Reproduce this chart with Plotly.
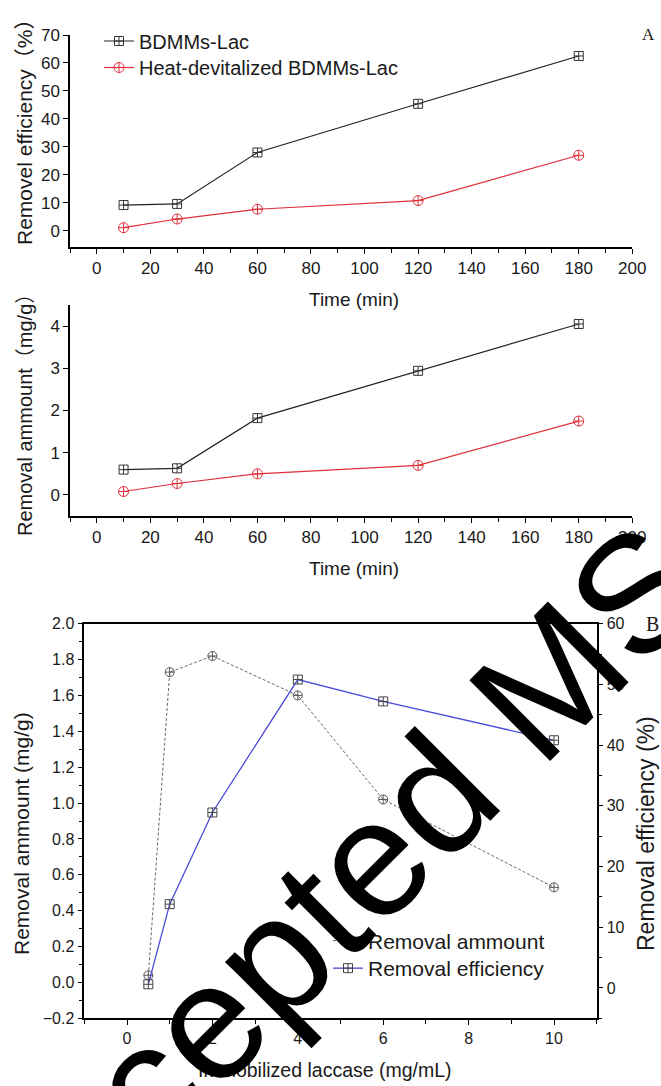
import plotly.graph_objects as go

# ---- data -------------------------------------------------------------
time_min = [10, 30, 60, 120, 180]
eff_bdmms = [9.2, 9.6, 28.0, 45.4, 62.5]
eff_heat = [1.1, 4.2, 7.7, 10.8, 27.0]
amt_bdmms = [0.60, 0.63, 1.82, 2.94, 4.05]
amt_heat = [0.08, 0.27, 0.50, 0.70, 1.75]

laccase = [0.5, 1, 2, 4, 6, 10]
amt_lac = [0.04, 1.73, 1.82, 1.60, 1.02, 0.53]
eff_lac = [0.6, 13.8, 28.9, 50.8, 47.2, 40.8]

name_bdmms = "BDMMs-Lac"
name_heat = "Heat-devitalized BDMMs-Lac"
name_amt = "Removal ammount"
name_eff = "Removal efficiency"

W, H = 661, 1086
FONT = "Liberation Sans, Arial, Noto Sans CJK SC, sans-serif"


def fx(p):
    return p / W


def fy(p):
    return 1 - p / H


fig = go.Figure()

# panel A: removal efficiency vs time
fig.add_trace(go.Scatter(
    x=time_min, y=eff_bdmms, name=name_bdmms, mode="lines+markers",
    line=dict(color="#222222", width=1.2),
    marker=dict(symbol="square-cross-open", size=9, color="#333333", line=dict(width=1)),
    xaxis="x", yaxis="y", legend="legend"))
fig.add_trace(go.Scatter(
    x=time_min, y=eff_heat, name=name_heat, mode="lines+markers",
    line=dict(color="#e0303a", width=1.2),
    marker=dict(symbol="circle-cross-open", size=10, color="#e0303a", line=dict(width=1)),
    xaxis="x", yaxis="y", legend="legend3"))

# panel A (lower): removal amount vs time
fig.add_trace(go.Scatter(
    x=time_min, y=amt_bdmms, name=name_bdmms, mode="lines+markers", showlegend=False,
    line=dict(color="#222222", width=1.2),
    marker=dict(symbol="square-cross-open", size=9, color="#333333", line=dict(width=1)),
    xaxis="x2", yaxis="y2"))
fig.add_trace(go.Scatter(
    x=time_min, y=amt_heat, name=name_heat, mode="lines+markers", showlegend=False,
    line=dict(color="#e0303a", width=1.2),
    marker=dict(symbol="circle-cross-open", size=10, color="#e0303a", line=dict(width=1)),
    xaxis="x2", yaxis="y2"))

# panel B: dual axis vs immobilized laccase
fig.add_trace(go.Scatter(
    x=laccase, y=amt_lac, name=name_amt, mode="lines+markers",
    line=dict(color="#666666", width=1, dash="3px,2px"),
    marker=dict(symbol="circle-cross-open", size=9, color="#555555", line=dict(width=1)),
    xaxis="x3", yaxis="y3", legend="legend2"))
fig.add_trace(go.Scatter(
    x=laccase, y=eff_lac, name=name_eff, mode="lines+markers",
    line=dict(color="#4a4ad8", width=1.3),
    marker=dict(symbol="square-cross-open", size=9, color="#444444", line=dict(width=1)),
    xaxis="x3", yaxis="y4", legend="legend4"))

axis_common = dict(showline=True, linecolor="black", linewidth=1.5, ticks="outside",
                   ticklen=5, tickwidth=1.3, tickcolor="black", showgrid=False,
                   zeroline=False, automargin=False)


def legend_at(x_px, top_px, size):
    return dict(x=fx(x_px), y=fy(top_px), xanchor="left", yanchor="top",
                font=dict(size=size, family=FONT), bgcolor="rgba(0,0,0,0)",
                tracegroupgap=0, itemwidth=30)


xdom_a = [fx(70), fx(632.3)]
fig.update_layout(
    width=W, height=H,
    margin=dict(l=0, r=0, t=0, b=0),
    paper_bgcolor="white", plot_bgcolor="white",
    font=dict(family=FONT, color="#1a1a1a", size=17),
    xaxis=dict(domain=xdom_a, range=[-10, 200], dtick=20, tick0=0, anchor="y",
               minor=dict(dtick=10, ticks="outside", ticklen=4, tickcolor="black"),
               tickfont=dict(size=17), **axis_common),
    yaxis=dict(domain=[fy(247), fy(35)], range=[-5.8, 70], dtick=10, anchor="x",
               tickfont=dict(size=17), **axis_common),
    xaxis2=dict(domain=xdom_a, range=[-10, 200], dtick=20, tick0=0, anchor="y2",
                minor=dict(dtick=10, ticks="outside", ticklen=4, tickcolor="black"),
                tickfont=dict(size=17), **axis_common),
    yaxis2=dict(domain=[fy(516), fy(305)], range=[-0.5, 4.5], dtick=1, anchor="x2",
                tickfont=dict(size=17), **axis_common),
    xaxis3=dict(domain=[fx(84.3), fx(596.7)], range=[-1, 11], dtick=2, tick0=0, anchor="y3",
                mirror=True,
                minor=dict(dtick=1, ticks="outside", ticklen=4, tickcolor="black"),
                tickfont=dict(size=16), **axis_common),
    yaxis3=dict(domain=[fy(1018.3), fy(623.7)], range=[-0.2, 2.0], dtick=0.2, tick0=0,
                tickformat=".1f", anchor="x3",
                minor=dict(dtick=0.1, ticks="outside", ticklen=4, tickcolor="black"),
                tickfont=dict(size=16), **axis_common),
    yaxis4=dict(range=[-5, 60], dtick=10, tick0=0, overlaying="y3", side="right",
                anchor="x3",
                minor=dict(dtick=5, ticks="outside", ticklen=4, tickcolor="black"),
                tickfont=dict(size=16), **axis_common),
    legend=legend_at(99, 21.5, 20),
    legend3=legend_at(99, 48, 20),
    legend2=legend_at(328, 920.5, 21),
    legend4=legend_at(328, 948, 21),
)

annos = [
    # axis titles
    dict(text="Removel efficiency（%）", x=fx(25), y=fy(127), textangle=-90, font=dict(size=21)),
    dict(text="Time (min)", x=fx(354), y=fy(300), font=dict(size=19)),
    dict(text="Removal ammount（mg/g）", x=fx(25), y=fy(410), textangle=-90, font=dict(size=20)),
    dict(text="Time (min)", x=fx(354), y=fy(568), font=dict(size=19)),
    dict(text="Removal ammount (mg/g)", x=fx(21), y=fy(834), textangle=-90, font=dict(size=21)),
    dict(text="Removal efficiency (%)", x=fx(646), y=fy(834), textangle=-90, font=dict(size=23)),
    dict(text="Immobilized laccase (mg/mL)", x=fx(325), y=fy(1070), font=dict(size=19.5)),
    # panel letters
    dict(text="A", x=fx(648), y=fy(35), font=dict(size=17, family="Liberation Serif, Times New Roman, serif")),
    dict(text="B", x=fx(652), y=fy(624), font=dict(size=20, family="Liberation Serif, Times New Roman, serif")),
    # overlay stamp
    dict(text="Accepted MS", x=fx(326), y=fy(903), textangle=-45,
         font=dict(size=166, color="black", family="Liberation Sans, Arial, sans-serif")),
]
for a in annos:
    a.setdefault("xref", "paper")
    a.setdefault("yref", "paper")
    a.setdefault("showarrow", False)
    a.setdefault("xanchor", "center")
    a.setdefault("yanchor", "middle")
    fig.add_annotation(**a)

fig.write_html("out.html")
